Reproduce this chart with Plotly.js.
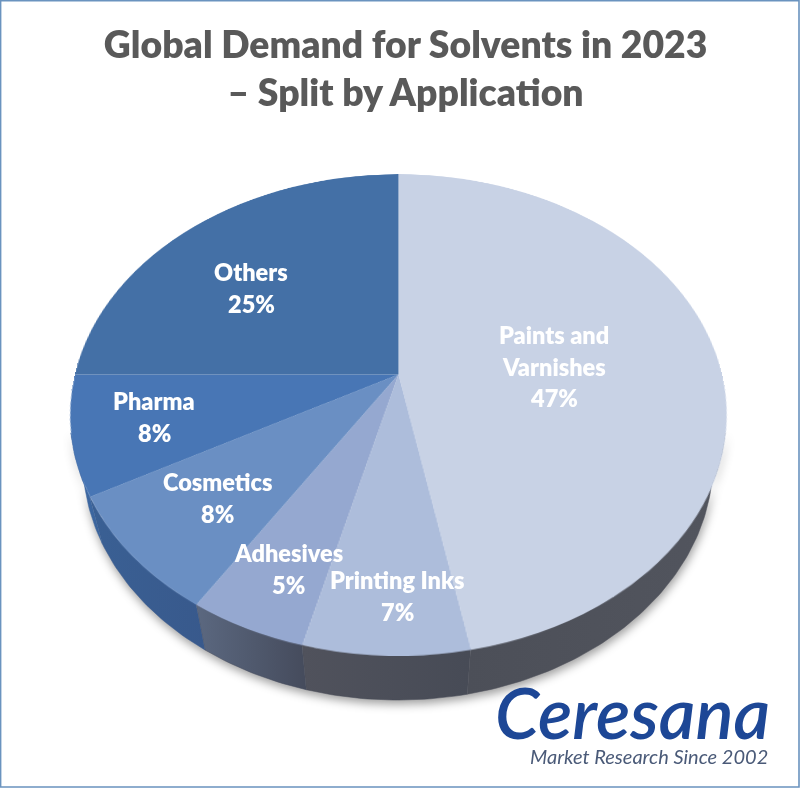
<!DOCTYPE html>
<html><head><meta charset="utf-8">
<script src="https://cdn.plot.ly/plotly-3.0.1.min.js"></script>
<style>
html,body{margin:0;padding:0;background:#fff;overflow:hidden}
#stage{position:relative;width:800px;height:789px;background:#fff;overflow:hidden}
#stage>div{position:absolute}
#walls{left:0;top:0;width:800px;height:789px;filter:drop-shadow(1px 4px 5px rgba(0,0,0,.38))}
#face{left:75px;top:51px;pointer-events:none}
#over{left:0;top:0;width:800px;height:789px;pointer-events:none}
svg text{font-variant-ligatures:none}
</style></head><body>
<div id="stage"><div id="walls"></div><div id="face"></div><div id="over"></div></div>
<script>
// ---- data ----
const categories = ['Paints and<br>Varnishes','Printing Inks','Adhesives','Cosmetics','Pharma','Others'];
const shares = [47,7,5,8,8,25];
const faceColors = ['#c8d2e5','#adbddb','#95a8d0','#6a8fc3','#4876b5','#4470a6'];
const wallLeft  = ['#4c4f58','#50525c','#5b6880','#3a6094','#3f6ca8','#3a6298'];
const wallRight = ['#52555e','#474b56','#454b5c','#38598c','#3a639b','#3a6298'];
const titleText = 'Global Demand for Solvents in 2023<br>– Split by Application';
// label anchors on the picture (px)
const labelX = [554,397,288,217,154,251];
const labelY = [335,580,553,482,401,272];

// ---- pie tilt ----
const R = 323.3, P = 1326, tilt = 43.7*Math.PI/180, depth = 72.9, cx = 398, cy = 374;
const frontFrom = 104*Math.PI/180, frontTo = 256*Math.PI/180; // part of the rim facing the viewer
const c = Math.cos(tilt), s = Math.sin(tilt);
function proj(a, h){            // a: clockwise angle from top, h: depth below face
  const x = R*Math.sin(a), y = -R*Math.cos(a);
  const yr = y*c + h*s, zr = y*s - h*c, k = P/(P-zr);
  return [cx + x*k, cy + yr*k];
}
const axisOff = {visible:false, fixedrange:true};
const base = {width:800,height:789,margin:{l:0,r:0,t:0,b:0},paper_bgcolor:'rgba(0,0,0,0)',plot_bgcolor:'rgba(0,0,0,0)',showlegend:false,
  xaxis:{...axisOff,range:[0,800]}, yaxis:{...axisOff,range:[789,0]}};

// ---- side walls ----
let acc = 0;
const wallTraces = [];
shares.forEach((v,i)=>{
  const s0 = acc/100*2*Math.PI; acc += v; const s1 = acc/100*2*Math.PI;
  const a0 = Math.max(s0,frontFrom), a1 = Math.min(s1,frontTo);
  if(a1<=a0) return;
  const n = Math.max(2,Math.round((a1-a0)*60)), xs=[], ys=[];
  for(let j=0;j<=n;j++){const p=proj(a0+(a1-a0)*j/n,0); xs.push(p[0]); ys.push(p[1]);}
  for(let j=n;j>=0;j--){const p=proj(a0+(a1-a0)*j/n,depth); xs.push(p[0]); ys.push(p[1]);}
  wallTraces.push({type:'scatter',x:xs,y:ys,mode:'lines',line:{width:0.5,color:wallRight[i]},fill:'toself',hoverinfo:'skip',
    fillgradient:{type:'horizontal',colorscale:[[0,wallLeft[i]],[1,wallRight[i]]]}});
});
Plotly.newPlot('walls',wallTraces,base,{staticPlot:true});

// ---- top face ----
const D = 2*R;
const faceEl = document.getElementById('face');
faceEl.style.width = D+'px'; faceEl.style.height = D+'px';
faceEl.style.left = (cx-R)+'px'; faceEl.style.top = (cy-R)+'px';
faceEl.style.transformOrigin = '50% 50%';
faceEl.style.transform = `perspective(${P}px) rotateX(${tilt}rad)`;
Plotly.newPlot('face',[{type:'pie',labels:categories.map(t=>t.replace('<br>',' ')),values:shares,sort:false,direction:'clockwise',rotation:0,
  marker:{colors:faceColors,line:{width:0}},textinfo:'none',hoverinfo:'skip',domain:{x:[0,1],y:[0,1]}}],
  {width:D,height:D,margin:{l:0,r:0,t:0,b:0},paper_bgcolor:'rgba(0,0,0,0)',showlegend:false},{staticPlot:true});

// ---- texts ----
const lineGap = 31.5;
const ann = [];
categories.forEach((cat,i)=>{
  const lines = cat.split('<br>').concat([shares[i]+'%']);
  lines.forEach((t,j)=>ann.push({xref:'x',yref:'y',x:labelX[i],y:labelY[i]+j*lineGap,text:t,showarrow:false,
    xanchor:'center',yanchor:'middle',font:{family:'Lato',size:23.5,color:'#ffffff',weight:800}}));
});
ann.push({xref:'x',yref:'y',x:772,y:711,text:'<i>Ceresana</i>',showarrow:false,xanchor:'right',yanchor:'middle',
  font:{family:'Lato',size:71,color:'#1d4796',weight:600}});
ann.push({xref:'x',yref:'y',x:770,y:756,text:'<i>Market Research Since 2002</i>',showarrow:false,xanchor:'right',yanchor:'middle',
  font:{family:'Lato',size:20,color:'#4a5a78'}});
Plotly.newPlot('over',[],{...base,
  title:{text:titleText,x:0.507,xanchor:'center',y:1,yanchor:'top',pad:{t:58},font:{family:'Lato',size:37.3,color:'#595959',weight:800}},
  annotations:ann,
  shapes:[{type:'rect',xref:'x',yref:'y',x0:0.6,x1:799,y0:0.6,y1:787,line:{color:'#6a93bf',width:1.6},fillcolor:'rgba(0,0,0,0)'}]
},{staticPlot:true});
</script></body></html>
